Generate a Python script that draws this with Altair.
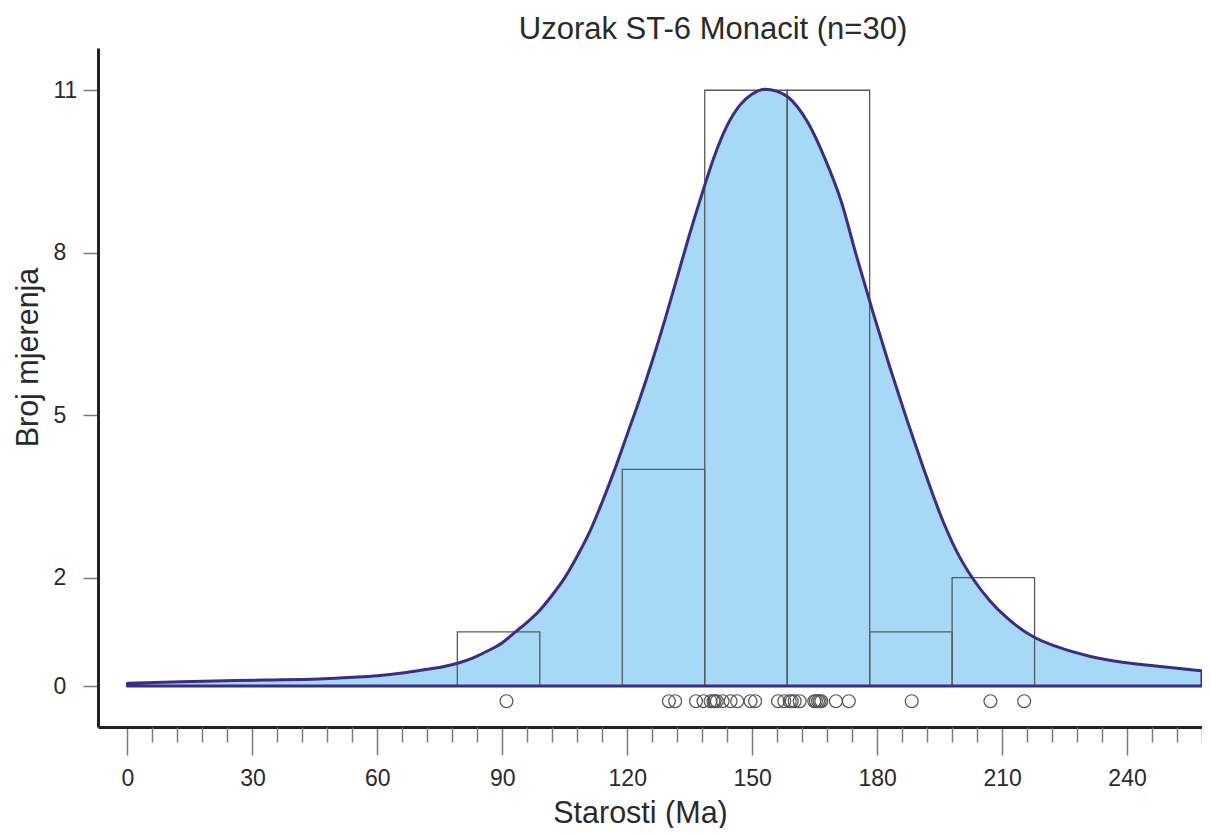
import altair as alt
import pandas as pd

# ---------------- data ----------------
title_text = "Uzorak ST-6 Monacit (n=30)"
x_title = "Starosti (Ma)"
y_title = "Broj mjerenja"

# kernel density curve (age in Ma, scaled to counts)
curve_age = [0, 13, 33, 46, 54, 60, 66, 72, 76, 79.3, 83, 86.8, 90, 93, 96, 99,
             102, 105, 108, 111, 114, 117, 120, 123, 126, 129, 132, 135, 138,
             141, 144, 147, 150, 153, 156, 158.5, 163.4, 167.4, 171.4, 175,
             179, 183, 187, 191, 195, 199, 203, 207, 211, 217.5, 223, 231,
             238.9, 246.9, 258.0]
curve_val = [0.05, 0.08, 0.11, 0.13, 0.16, 0.19, 0.24, 0.31, 0.36, 0.42, 0.52,
             0.66, 0.80, 0.99, 1.18, 1.40, 1.68, 2.00, 2.40, 2.85, 3.40, 4.00,
             4.65, 5.30, 6.00, 6.75, 7.55, 8.35, 9.10, 9.80, 10.35, 10.72,
             10.93, 11.02, 10.98, 10.88, 10.40, 9.75, 8.94, 7.95, 6.90, 5.90,
             4.95, 4.05, 3.20, 2.50, 1.98, 1.58, 1.27, 0.91, 0.73, 0.55, 0.44,
             0.37, 0.28]

# histogram
bin_start = [79.2, 99.0, 118.8, 138.6, 158.4, 178.2, 198.0]
bin_end = [99.0, 118.8, 138.6, 158.4, 178.2, 198.0, 217.8]
bin_count = [1, 0, 4, 11, 11, 1, 2]

# individual measurements (rug of circles)
ages = [91.0, 130.0, 131.5, 136.5, 138.3, 140.0, 140.7, 141.0, 141.5, 142.9,
        144.8, 146.4, 149.6, 150.7, 156.2, 157.7, 159.0, 159.5, 160.2, 161.4,
        164.9, 165.3, 165.8, 166.2, 166.6, 170.1, 173.2, 188.3, 207.2, 215.3]
rug_level = -0.28

major_ticks = [0, 30, 60, 90, 120, 150, 180, 210, 240]
minor_ticks = [v for v in range(6, 259, 6) if v % 30 != 0]
y_ticks = [0, 2, 5, 8, 11]

x_domain = [-7.08, 258.0]
y_domain = [-0.757, 11.78]

# ---------------- styling ----------------
FONT = "Liberation Sans"
FILL = "#A6D9F5"
LINE = "#3B2D86"
BAR = "#5a5a5a"
AXIS = "#222222"
TICK = "#7a7a7a"
TEXT = "#2a2a2a"

curve_df = pd.DataFrame({"age": curve_age, "val": curve_val})
hist_df = pd.DataFrame({"start": bin_start, "end": bin_end, "count": bin_count})
pts_df = pd.DataFrame({"age": ages, "lvl": [rug_level] * len(ages)})

xs = alt.Scale(domain=x_domain, nice=False, zero=False)
ys = alt.Scale(domain=y_domain, nice=False, zero=False)

x_major_axis = alt.Axis(
    values=major_ticks, tickSize=28, tickColor=TICK, tickWidth=1.5,
    domainColor=AXIS, domainWidth=3, grid=False, format="d",
    labelFont=FONT, labelFontSize=23, labelColor=TEXT,
    labelBaseline="alphabetic", labelPadding=30, labelFlush=False,
    labelOverlap=False,
    title=x_title, titleFont=FONT, titleFontSize=30.5, titleFontWeight="normal",
    titleColor=TEXT, titleX=542, titleY=95, titleBaseline="alphabetic",
    titleAlign="center", orient="bottom",
)
x_minor_axis = alt.Axis(
    values=minor_ticks, tickSize=15, tickColor=TICK, tickWidth=1.5,
    domain=False, labels=False, grid=False, title=None, orient="bottom",
)
y_axis = alt.Axis(
    values=y_ticks, tickSize=15, tickColor=TICK, tickWidth=1.5,
    domainColor=AXIS, domainWidth=3, grid=False, format="d",
    labelFont=FONT, labelFontSize=23, labelColor=TEXT,
    labelAlign="left", labelBaseline="middle", labelPadding=30,
    labelFlush=False, labelOverlap=False,
    title=y_title, titleFont=FONT, titleFontSize=30.5, titleFontWeight="normal",
    titleColor=TEXT, titleX=-61, titleY=309, titleAngle=270,
    titleBaseline="alphabetic", titleAlign="center", orient="left",
)

area_fill = alt.Chart(curve_df).mark_area(
    fill=FILL, strokeWidth=0, interpolate="monotone"
).encode(
    x=alt.X("age:Q", scale=xs, axis=x_major_axis),
    y=alt.Y("val:Q", scale=ys, axis=y_axis),
    y2=alt.datum(0),
)

bars = alt.Chart(hist_df).transform_filter("datum.count > 0").mark_rect(
    fill="white", fillOpacity=0, stroke=BAR, strokeWidth=1.3
).encode(
    x=alt.X("start:Q", scale=xs, axis=None),
    x2="end:Q",
    y=alt.Y("count:Q", scale=ys, axis=None),
    y2=alt.datum(0),
)

area_line = alt.Chart(curve_df).mark_area(
    fill="white", fillOpacity=0, stroke=LINE, strokeWidth=3,
    strokeJoin="round", interpolate="monotone"
).encode(
    x=alt.X("age:Q", scale=xs, axis=None),
    y=alt.Y("val:Q", scale=ys, axis=None),
    y2=alt.datum(0),
)

points = alt.Chart(pts_df).mark_point(
    shape="circle", filled=False, stroke="#555555", strokeWidth=1.2,
    size=165, opacity=1
).encode(
    x=alt.X("age:Q", scale=xs, axis=x_minor_axis),
    y=alt.Y("lvl:Q", scale=ys, axis=None),
)

chart = alt.layer(area_fill, bars, area_line, points).resolve_axis(
    x="independent", y="independent"
).properties(
    width=1104,
    height=679,
    padding={"left": 90, "top": 40, "right": 0, "bottom": 101},
    autosize=alt.AutoSizeParams(type="none"),
    title=alt.TitleParams(
        text=title_text, font=FONT, fontSize=31, fontWeight="normal",
        color=TEXT, anchor="middle", frame="group", dx=63, dy=30, offset=8,
        baseline="alphabetic",
    ),
    background="white",
).configure_view(stroke=None)

chart.save("out.html", embed_options={"renderer": "svg", "actions": False})
